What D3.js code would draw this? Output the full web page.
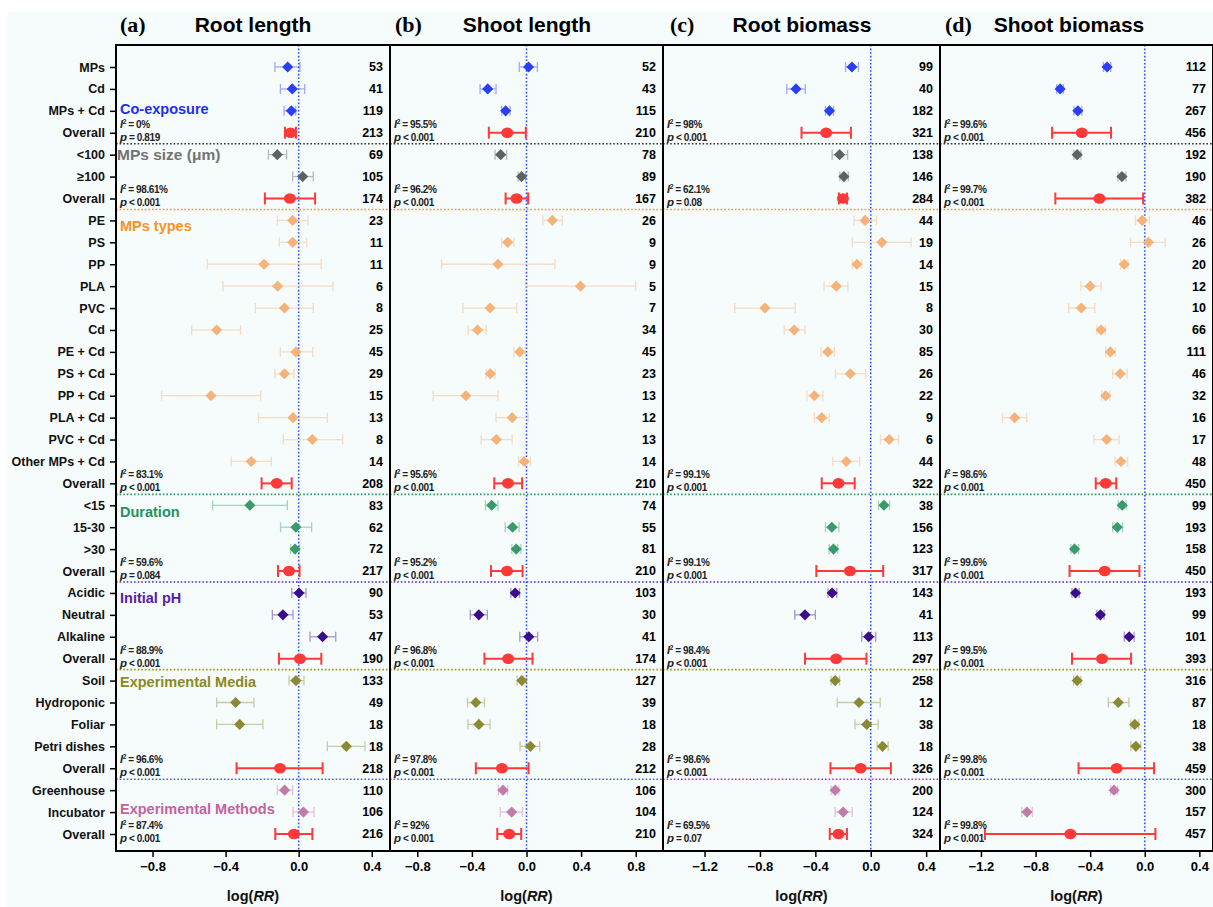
<!DOCTYPE html>
<html>
<head>
<meta charset="utf-8">
<script src="https://d3js.org/d3.v7.min.js"></script>
<style>
  body { margin: 0; background: #ffffff; }
  svg { display: block; font-family: "Liberation Sans", Arial, sans-serif; }
</style>
</head>
<body>
<script>
// ---- DATA ----
const rowLabels = ["MPs", "Cd", "MPs + Cd", "Overall",
  "<100", "\u2265100", "Overall",
  "PE", "PS", "PP", "PLA", "PVC", "Cd", "PE + Cd", "PS + Cd", "PP + Cd", "PLA + Cd", "PVC + Cd", "Other MPs + Cd", "Overall",
  "<15", "15-30", ">30", "Overall",
  "Acidic", "Neutral", "Alkaline", "Overall",
  "Soil", "Hydroponic", "Foliar", "Petri dishes", "Overall",
  "Greenhouse", "Incubator", "Overall"];
const sectionNames = ["Co-exposure", "MPs size (\u03bcm)", "MPs types", "Duration", "Initial pH", "Experimental Media", "Experimental Methods"];
const sectionEnds = [3, 6, 19, 23, 27, 32, 35]; // last row (Overall) of each section

// (a) Root length
const rootLenMean = [-0.06,-0.035,-0.04,-0.045, -0.117,0.022,-0.048, -0.033,-0.033,-0.19,-0.115,-0.078,-0.449,-0.015,-0.078,-0.48,-0.031,0.075,-0.26,-0.12, -0.267,-0.015,-0.02,-0.053, 0.002,-0.086,0.131,0.007, -0.015,-0.345,-0.323,0.261,-0.102, -0.077,0.026,-0.026];
const rootLenLow = [-0.13,-0.10,-0.08,-0.075, -0.166,-0.033,-0.185, -0.117,-0.106,-0.50,-0.415,-0.237,-0.586,-0.10,-0.13,-0.75,-0.22,-0.084,-0.369,-0.203, -0.471,-0.099,-0.044,-0.113, -0.038,-0.144,0.062,-0.108, -0.053,-0.449,-0.449,0.157,-0.34, -0.117,-0.031,-0.128];
const rootLenHigh = [0.007,0.033,-0.016,-0.015, -0.066,0.08,0.09, 0.051,0.044,0.124,0.188,0.08,-0.318,0.077,-0.026,-0.208,0.157,0.241,-0.15,-0.038, -0.062,0.071,0.005,0.005, 0.04,-0.031,0.203,0.124, 0.029,-0.245,-0.196,0.363,0.131, -0.033,0.084,0.075];
const rootLenN = [53,41,119,213,69,105,174,23,11,11,6,8,25,45,29,15,13,8,14,208,83,62,72,217,90,53,47,190,133,49,18,18,218,110,106,216];
const rootLenI2 = ["0%", "98.61%", "83.1%", "59.6%", "88.9%", "96.6%", "87.4%"];
const rootLenP = ["= 0.819", "< 0.001", "< 0.001", "= 0.084", "< 0.001", "< 0.001", "< 0.001"];

// (b) Shoot length
const shootLenMean = [0.015,-0.284,-0.153,-0.141, -0.189,-0.036,-0.073, 0.189,-0.138,-0.209,0.395,-0.267,-0.359,-0.049,-0.265,-0.444,-0.105,-0.221,-0.017,-0.136, -0.255,-0.102,-0.075,-0.143, -0.083,-0.349,0.017,-0.134, -0.034,-0.371,-0.349,0.029,-0.18, -0.172,-0.109,-0.127];
const shootLenLow = [-0.053,-0.34,-0.182,-0.276, -0.23,-0.061,-0.153, 0.121,-0.182,-0.623,-0.005,-0.466,-0.427,-0.092,-0.296,-0.684,-0.223,-0.332,-0.058,-0.236, -0.301,-0.156,-0.107,-0.26, -0.114,-0.412,-0.049,-0.308, -0.068,-0.432,-0.429,-0.047,-0.371, -0.206,-0.192,-0.214];
const shootLenHigh = [0.08,-0.223,-0.121,-0.005, -0.145,-0.007,0.012, 0.262,-0.092,0.208,0.80,-0.071,-0.294,-0.007,-0.23,-0.209,0.012,-0.105,0.029,-0.032, -0.209,-0.054,-0.041,-0.029, -0.051,-0.287,0.082,0.044, 0.0,-0.308,-0.267,0.097,0.015, -0.138,-0.029,-0.039];
const shootLenN = [52,43,115,210,78,89,167,26,9,9,5,7,34,45,23,13,12,13,14,210,74,55,81,210,103,30,41,174,127,39,18,28,212,106,104,210];
const shootLenI2 = ["95.5%", "96.2%", "95.6%", "95.2%", "96.8%", "97.8%", "92%"];
const shootLenP = ["< 0.001", "< 0.001", "< 0.001", "< 0.001", "< 0.001", "< 0.001", "< 0.001"];

// (c) Root biomass
const rootBioMean = [-0.136,-0.54,-0.298,-0.322, -0.225,-0.194,-0.201, -0.041,0.08,-0.1,-0.249,-0.764,-0.553,-0.31,-0.148,-0.407,-0.354,0.133,-0.177,-0.233, 0.095,-0.281,-0.269,-0.15, -0.279,-0.475,-0.015,-0.25, -0.257,-0.085,-0.029,0.085,-0.073, -0.257,-0.199,-0.233];
const rootBioLow = [-0.182,-0.606,-0.327,-0.5, -0.279,-0.223,-0.23, -0.121,-0.133,-0.133,-0.337,-0.982,-0.625,-0.359,-0.255,-0.46,-0.407,0.07,-0.274,-0.354, 0.056,-0.327,-0.3,-0.393, -0.308,-0.548,-0.065,-0.475, -0.286,-0.242,-0.114,0.046,-0.291, -0.286,-0.257,-0.296];
const rootBioHigh = [-0.089,-0.473,-0.269,-0.143, -0.167,-0.162,-0.172, 0.041,0.291,-0.065,-0.165,-0.545,-0.475,-0.262,-0.036,-0.347,-0.3,0.2,-0.08,-0.116, 0.136,-0.23,-0.238,0.09, -0.245,-0.4,0.036,-0.031, -0.225,0.068,0.053,0.126,0.145, -0.23,-0.133,-0.172];
const rootBioN = [99,40,182,321,138,146,284,44,19,14,15,8,30,85,26,22,9,6,44,322,38,156,123,317,143,41,113,297,258,12,38,18,326,200,124,324];
const rootBioI2 = ["98%", "62.1%", "99.1%", "99.1%", "98.4%", "98.6%", "69.5%"];
const rootBioP = ["< 0.001", "= 0.08", "< 0.001", "< 0.001", "< 0.001", "< 0.001", "= 0.07"];

// (d) Shoot biomass
const shootBioMean = [-0.276,-0.62,-0.49,-0.461, -0.495,-0.167,-0.332, -0.019,0.027,-0.15,-0.4,-0.465,-0.32,-0.252,-0.18,-0.286,-0.953,-0.279,-0.175,-0.286, -0.165,-0.201,-0.514,-0.293, -0.507,-0.325,-0.114,-0.313, -0.495,-0.194,-0.073,-0.065,-0.206, -0.225,-0.863,-0.545];
const shootBioLow = [-0.303,-0.645,-0.519,-0.679, -0.519,-0.196,-0.655, -0.068,-0.104,-0.177,-0.468,-0.558,-0.351,-0.286,-0.235,-0.315,-1.042,-0.373,-0.218,-0.359, -0.194,-0.235,-0.541,-0.551, -0.533,-0.351,-0.15,-0.533, -0.521,-0.267,-0.102,-0.102,-0.485, -0.25,-0.902,-1.171];
const shootBioHigh = [-0.249,-0.596,-0.461,-0.247, -0.468,-0.138,-0.012, 0.034,0.15,-0.124,-0.32,-0.366,-0.289,-0.216,-0.129,-0.257,-0.865,-0.189,-0.126,-0.209, -0.136,-0.162,-0.485,-0.039, -0.48,-0.298,-0.078,-0.1, -0.468,-0.116,-0.044,-0.029,0.068, -0.199,-0.824,0.078];
const shootBioN = [112,77,267,456,192,190,382,46,26,20,12,10,66,111,46,32,16,17,48,450,99,193,158,450,193,99,101,393,316,87,18,38,459,300,157,457];
const shootBioI2 = ["99.6%", "99.7%", "98.6%", "99.6%", "99.5%", "99.8%", "99.8%"];
const shootBioP = ["< 0.001", "< 0.001", "< 0.001", "< 0.001", "< 0.001", "< 0.001", "< 0.001"];

const ticksAB = [-0.8, -0.4, 0, 0.4];
const ticksB = [-0.8, -0.4, 0, 0.4, 0.8];
const ticksCD = [-1.2, -0.8, -0.4, 0, 0.4];

// ---- STYLE ----
const markerColors = ["#2b3ff2", "#5e6266", "#f5b37a", "#3b9a6b", "#3a0b8c", "#8b8a33", "#c27aa8"];
const labelColors = ["#1c2ff0", "#737373", "#f7941d", "#25915f", "#5620a8", "#8a8a1c", "#c462a0"];
const sepColors = ["#333333", "#f7941d", "#2e9a5e", "#5b2bc0", "#9a9a22"];
const overallColor = "#ff3838";

const panels = [
  {letter: "(a)", title: "Root length", mean: rootLenMean, low: rootLenLow, high: rootLenHigh, n: rootLenN, i2: rootLenI2, p: rootLenP,
   domain: [-1.0, 0.5], ticks: ticksAB, left: 116, right: 390, lastSep: "#4a5cf0", letterX: 120, titleX: 253},
  {letter: "(b)", title: "Shoot length", mean: shootLenMean, low: shootLenLow, high: shootLenHigh, n: shootLenN, i2: shootLenI2, p: shootLenP,
   domain: [-1.0, 1.0], ticks: ticksB, left: 390, right: 663, lastSep: "#4a5cf0", letterX: 395, titleX: 527},
  {letter: "(c)", title: "Root biomass", mean: rootBioMean, low: rootBioLow, high: rootBioHigh, n: rootBioN, i2: rootBioI2, p: rootBioP,
   domain: [-1.5, 0.5], ticks: ticksCD, left: 663, right: 940, lastSep: "#a03cc8", letterX: 670, titleX: 802},
  {letter: "(d)", title: "Shoot biomass", mean: shootBioMean, low: shootBioLow, high: shootBioHigh, n: shootBioN, i2: shootBioI2, p: shootBioP,
   domain: [-1.5, 0.5], ticks: ticksCD, left: 940, right: 1213, lastSep: "#4a5cf0", letterX: 945, titleX: 1069}
];

const width = 1213, height = 907;
const plotTop = 45, plotBottom = 851;

function sectionOf(i) {
  return sectionEnds.findIndex(e => i <= e);
}

const svg = d3.select("body").append("svg")
  .attr("width", width)
  .attr("height", height);

svg.append("rect")
  .attr("x", 7).attr("y", 12)
  .attr("width", width - 7).attr("height", height - 12)
  .attr("fill", "#f6fbfc");

const rows = d3.range(rowLabels.length);
const y = d3.scalePoint().domain(rows).range([67, 834]);

panels.forEach((pan, pi) => {
  const x = d3.scaleLinear().domain(pan.domain).range([pan.left, pan.right]);
  const g = svg.append("g");

  // section separators
  sectionEnds.slice(0, -1).forEach((e, k) => {
    const yy = (y(e) + y(e + 1)) / 2;
    g.append("line")
      .attr("x1", pan.left).attr("x2", pan.right)
      .attr("y1", yy).attr("y2", yy)
      .attr("stroke", k === 5 ? pan.lastSep : sepColors[k])
      .attr("stroke-width", 1.6)
      .attr("stroke-dasharray", "1.6,2");
  });

  // zero line
  g.append("line")
    .attr("x1", x(0)).attr("x2", x(0))
    .attr("y1", plotTop).attr("y2", plotBottom)
    .attr("stroke", "#2f50ff")
    .attr("stroke-width", 1.6)
    .attr("stroke-dasharray", "1.6,2");

  // error bars
  rows.forEach(i => {
    const isOverall = sectionEnds.includes(i);
    const col = isOverall ? overallColor : markerColors[sectionOf(i)];
    const op = isOverall ? 1 : 0.42;
    const sw = isOverall ? 2 : 1.3;
    const cap = isOverall ? 6 : 5;
    const x1 = x(pan.low[i]), x2 = x(pan.high[i]), yy = y(i);
    const eb = g.append("g").attr("stroke", col).attr("stroke-width", sw).attr("opacity", op);
    eb.append("line").attr("x1", x1).attr("x2", x2).attr("y1", yy).attr("y2", yy);
    eb.append("line").attr("x1", x1).attr("x2", x1).attr("y1", yy - cap).attr("y2", yy + cap);
    eb.append("line").attr("x1", x2).attr("x2", x2).attr("y1", yy - cap).attr("y2", yy + cap);
  });

  // point markers
  rows.forEach(i => {
    const isOverall = sectionEnds.includes(i);
    if (isOverall) {
      g.append("ellipse")
        .attr("cx", x(pan.mean[i])).attr("cy", y(i))
        .attr("rx", 6).attr("ry", 5.3)
        .attr("fill", overallColor);
    } else {
      g.append("path")
        .attr("d", d3.symbol(d3.symbolSquare, 62)())
        .attr("transform", `translate(${x(pan.mean[i])},${y(i)}) rotate(45)`)
        .attr("fill", markerColors[sectionOf(i)]);
    }
  });

  // sample sizes
  g.selectAll(".n-label")
    .data(rows)
    .enter()
    .append("text")
    .attr("class", "n-label")
    .attr("x", pan.right - 7)
    .attr("y", i => y(i))
    .attr("dy", "0.35em")
    .attr("text-anchor", "end")
    .style("font-size", "12.5px")
    .style("font-weight", "bold")
    .text(i => pan.n[i]);

  // heterogeneity stats
  sectionEnds.forEach((e, k) => {
    const t1 = g.append("text")
      .attr("x", pan.left + 4).attr("y", y(e) - 5)
      .attr("fill", "#222")
      .style("font-size", "10px").style("font-weight", "bold").style("letter-spacing", "-0.4px");
    t1.append("tspan").style("font-style", "italic").style("font-size", "11px").text("I");
    t1.append("tspan").attr("dy", -4).style("font-size", "6.5px").text("2");
    t1.append("tspan").attr("dy", 4).text(" = " + pan.i2[k]);
    const t2 = g.append("text")
      .attr("x", pan.left + 4).attr("y", y(e) + 8)
      .attr("fill", "#222")
      .style("font-size", "10px").style("font-weight", "bold").style("letter-spacing", "-0.4px");
    t2.append("tspan").style("font-style", "italic").style("font-size", "11.5px").text("p");
    t2.append("tspan").text(" " + pan.p[k]);
  });

  // x axis
  const xAxis = g.append("g")
    .attr("transform", `translate(0, ${plotBottom})`)
    .call(d3.axisBottom(x).tickValues(pan.ticks).tickFormat(d3.format(".1f")).tickSize(6).tickSizeOuter(0).tickPadding(5));
  xAxis.select(".domain").remove();
  xAxis.selectAll("line").attr("stroke", "#000").attr("stroke-width", 1.5);
  xAxis.selectAll("text")
    .style("font-size", "13px")
    .style("font-weight", "bold")
    .style("font-family", "'Liberation Sans', Arial, sans-serif")
    .attr("fill", "#000");

  // panel border
  g.append("rect")
    .attr("x", pan.left).attr("y", plotTop)
    .attr("width", pan.right - pan.left).attr("height", plotBottom - plotTop)
    .attr("fill", "none")
    .attr("stroke", "#000")
    .attr("stroke-width", 2);

  // x axis label
  const xl = g.append("text")
    .attr("x", (pan.left + pan.right) / 2).attr("y", 901)
    .attr("text-anchor", "middle")
    .attr("fill", "#111")
    .style("font-size", "14.5px")
    .style("font-weight", "bold");
  xl.append("tspan").text("log(");
  xl.append("tspan").style("font-style", "italic").text("RR");
  xl.append("tspan").text(")");

  // titles
  g.append("text")
    .attr("x", pan.letterX).attr("y", 32)
    .style("font-family", "'Liberation Serif', 'Times New Roman', serif")
    .style("font-weight", "bold")
    .style("font-size", "22px")
    .text(pan.letter);
  g.append("text")
    .attr("x", pan.titleX).attr("y", 32)
    .attr("text-anchor", "middle")
    .style("font-weight", "bold")
    .style("font-size", "21px")
    .text(pan.title);
});

// row labels on the left axis
const yAxis = svg.append("g")
  .attr("transform", "translate(116, 0)")
  .call(d3.axisLeft(y).tickFormat(i => rowLabels[i]).tickSize(6).tickSizeOuter(0).tickPadding(5));
yAxis.select(".domain").remove();
yAxis.selectAll("line").attr("stroke", "#000").attr("stroke-width", 1.5);
yAxis.selectAll("text")
  .style("font-size", "12.5px")
  .style("font-weight", "bold")
  .style("font-family", "'Liberation Sans', Arial, sans-serif")
  .attr("fill", "#111");

// section labels inside panel (a)
const sectionLabelRows = [2, 4, 7, 20, 24, 28, 34];
const sectionLabelShift = [-2, 0, 6, 7, 5, 1, -3];
sectionNames.forEach((name, k) => {
  svg.append("text")
    .attr("x", k === 1 ? 117 : 120)
    .attr("y", y(sectionLabelRows[k]) + sectionLabelShift[k])
    .attr("dy", "0.35em")
    .attr("fill", labelColors[k])
    .style("font-size", k === 1 ? "15.5px" : "14.5px")
    .style("font-weight", "bold")
    .text(name);
});
</script>
</body>
</html>
